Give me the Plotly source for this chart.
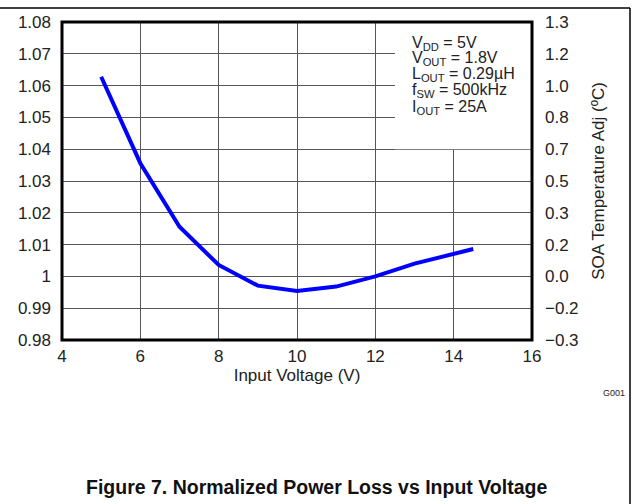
import plotly.graph_objects as go

# Data
input_voltage = [5, 6, 7, 8, 9, 10, 11, 12, 13, 14, 14.5]
norm_power_loss = [1.0628, 1.0356, 1.0156, 1.0036, 0.9971, 0.9954, 0.9968, 1.0000, 1.0040, 1.0070, 1.0086]

left_ticks = [0.98, 0.99, 1.00, 1.01, 1.02, 1.03, 1.04, 1.05, 1.06, 1.07, 1.08]
left_ticklabels = ["0.98", "0.99", "1", "1.01", "1.02", "1.03", "1.04", "1.05", "1.06", "1.07", "1.08"]
right_ticklabels = ["\u22120.3", "\u22120.2", "0.0", "0.2", "0.3", "0.5", "0.7", "0.8", "1.0", "1.2", "1.3"]
x_ticks = [4, 6, 8, 10, 12, 14, 16]

legend_lines = [
    "V<sub>DD</sub> = 5V",
    "V<sub>OUT</sub> = 1.8V",
    "L<sub>OUT</sub> = 0.29µH",
    "f<sub>SW</sub> = 500kHz",
    "I<sub>OUT</sub> = 25A",
]

FONT = "Liberation Sans, Arial, sans-serif"
W, H = 633, 504
L, R, T, B = 62, 101, 22, 164

fig = go.Figure()
fig.add_trace(go.Scatter(
    x=input_voltage, y=norm_power_loss, mode="lines",
    line=dict(color="#0000FF", width=4), showlegend=False, hoverinfo="skip",
))
fig.add_trace(go.Scatter(
    x=input_voltage, y=norm_power_loss, mode="lines", yaxis="y2",
    line=dict(color="rgba(0,0,0,0)", width=0), showlegend=False, hoverinfo="skip",
))

fig.update_layout(
    width=W, height=H,
    margin=dict(l=L, r=R, t=T, b=B),
    paper_bgcolor="white", plot_bgcolor="white",
    font=dict(family=FONT, size=17, color="#222"),
    xaxis=dict(
        range=[4, 16], tickvals=x_ticks, showgrid=True, gridcolor="#555", gridwidth=1,
        zeroline=False, showline=False, ticks="", ticklabelstandoff=4,
        title=dict(text="Input Voltage (V)", font=dict(size=17), standoff=0),
    ),
    yaxis=dict(
        range=[0.98, 1.08], tickvals=left_ticks, ticktext=left_ticklabels,
        showgrid=True, gridcolor="#555", gridwidth=1, zeroline=False, showline=False,
        ticks="", ticklabelstandoff=10,
    ),
    yaxis2=dict(
        range=[0.98, 1.08], tickvals=left_ticks, ticktext=right_ticklabels,
        overlaying="y", side="right", showgrid=False, zeroline=False, showline=False,
        ticks="", ticklabelstandoff=12,
        title=dict(text="SOA Temperature Adj (ºC)", font=dict(size=17), standoff=14),
    ),
)

pw = W - L - R
ph = H - T - B

shapes = [
    # legend box background
    dict(type="rect", xref="x", yref="y", x0=12.5, x1=16, y0=1.04, y1=1.08,
         fillcolor="white", line=dict(width=0), layer="between"),
    # plot border
    dict(type="rect", xref="paper", yref="paper", x0=0, x1=1, y0=0, y1=1,
         line=dict(color="black", width=3), layer="above"),
    # outer frame top line
    dict(type="line", xref="paper", yref="paper",
         x0=-L / pw, x1=(630 - L) / pw,
         y0=(H - B - 8) / ph, y1=(H - B - 8) / ph,
         line=dict(color="black", width=1.5), layer="above"),
    # outer frame right line
    dict(type="line", xref="paper", yref="paper",
         x0=(630 - L) / pw, x1=(630 - L) / pw,
         y0=(H - B - 8) / ph, y1=-B / ph,
         line=dict(color="black", width=1.5), layer="above"),
]
fig.update_layout(shapes=shapes)

annotations = []
for i, txt in enumerate(legend_lines):
    py = 43 + i * 16
    annotations.append(dict(
        text=txt, xref="paper", yref="paper", x=(410 - L) / pw, y=(H - B - py) / ph,
        xanchor="left", yanchor="middle", showarrow=False, font=dict(size=16, color="#222"),
    ))
annotations.append(dict(
    text="G001", xref="paper", yref="paper", x=(627 - L) / pw, y=(H - B - 393) / ph,
    xanchor="right", yanchor="middle", showarrow=False, font=dict(size=9, color="#222"),
))
annotations.append(dict(
    text="<b>Figure 7. Normalized Power Loss vs Input Voltage</b>", xref="paper", yref="paper",
    x=(316 - L) / pw, y=(H - B - 487) / ph, xanchor="center", yanchor="middle",
    showarrow=False, font=dict(size=19.5, color="#111"),
))
fig.update_layout(annotations=annotations)

fig.write_html("out.html", config={"displayModeBar": False},
               post_script="document.body.style.margin='0';")
